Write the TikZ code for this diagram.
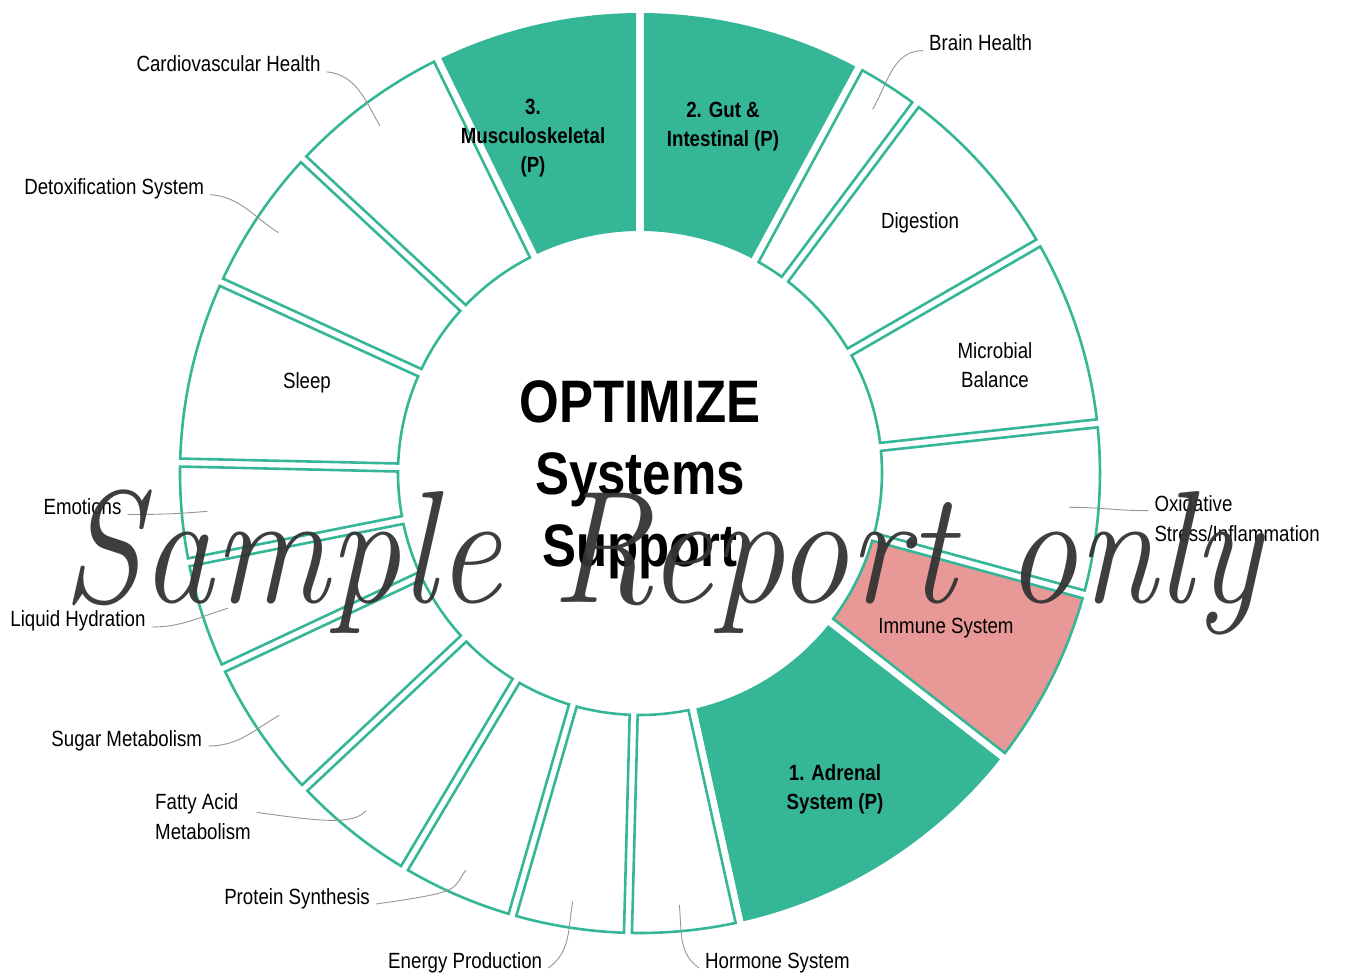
\documentclass[tikz,border=0pt]{standalone}
\usepackage{fontspec}
\setmainfont{Liberation Sans}[FakeStretch=0.85]
\newfontfamily\handfont{Latin Modern Roman}[FakeStretch=0.9]
\usepackage{graphicx}
\usepackage{tikz}
\usetikzlibrary{positioning}
\definecolor{segteal}{RGB}{53,183,151}
\definecolor{segred}{RGB}{232,152,150}
\definecolor{leadgray}{RGB}{150,150,150}
\definecolor{stampgray}{RGB}{52,52,52}
\tikzset{seg/.style = {draw = segteal, line width = 2.6pt, fill = white}}
\tikzset{segp/.style = {draw = none, fill = segteal}}
\tikzset{segi/.style = {draw = segteal, line width = 2.6pt, fill = segred}}
\tikzset{lbl/.style = {font = \fontsize{22}{29.5}\selectfont, inner xsep = 6pt, inner ysep = 0pt, align = left}}
\tikzset{lblin/.style = {font = \fontsize{22}{29.5}\selectfont, align = center}}
\tikzset{lblp/.style = {font = \fontsize{22}{29}\selectfont\bfseries, align = center}}
\tikzset{lead/.style = {draw = leadgray, line width = 0.9pt}}
\tikzset{stamp/.style = {font = \handfont\itshape\fontsize{160}{160}\selectfont, text = stampgray, opacity = 0.95}}

\begin{document}
\begin{tikzpicture}[x=1pt, y=1pt]
  \useasboundingbox (-640,-501) rectangle (705,473);
  \pgfmathsetmacro{\ro}{460}
  \pgfmathsetmacro{\ri}{242}
  \pgfmathsetmacro{\dro}{asin(4/\ro)}
  \pgfmathsetmacro{\dri}{asin(4/\ri)}
  \foreach \a/\b/\s in {61.6/90/segp, 53.2/61.6/seg, 30/53.2/seg, 6.2/30/seg,
      -15.3/6.2/seg, -38/-15.3/segi, -77.5/-38/segp, -91.5/-77.5/seg,
      -106.1/-91.5/seg, -120.8/-106.1/seg, -136.8/-120.8/seg, -154.9/-136.8/seg,
      -168.8/-154.9/seg, 178.7/191.2/seg, 155.5/178.7/seg, 137/155.5/seg,
      116.1/137/seg, 90/116.1/segp} {
    \draw[\s] (\a+\dro:\ro) arc[start angle=\a+\dro, end angle=\b-\dro, radius=\ro]
      -- (\b-\dri:\ri) arc[start angle=\b-\dri, end angle=\a+\dri, radius=\ri] -- cycle;
  }

  \node[lblp] (musculo) at (-107, 335) {3.\\Musculoskeletal\\(P)};
  \node[lblp] (gut) at (83, 346.5) {2. Gut \&\\Intestinal (P)};
  \node[lblp] (adrenal) at (195, -316) {1. Adrenal\\System (P)};
  \node[lblin] (digestion) at (280, 250) {Digestion};
  \node[lblin] (microbial) at (355, 108) {Microbial\\Balance};
  \node[lblin] (immune) at (306, -155) {Immune System};
  \node[lblin] (sleep) at (-333, 90) {Sleep};

  \node[lbl, anchor=base east] (cardio) at (-313.3, 401.1) {Cardiovascular Health};
  \node[lbl, anchor=base east] (detox) at (-429.7, 278.4) {Detoxification System};
  \node[lbl, anchor=base west] (brain) at (283, 422.4) {Brain Health};
  \node[lbl, anchor=base west] (oxidative) at (508.3, -68.3) {Oxidative\\Stress/Inflammation};
  \node[lbl, anchor=base east] (emotions) at (-512.3, -41.5) {Emotions};
  \node[lbl, anchor=base east] (hydration) at (-488.3, -154) {Liquid Hydration};
  \node[lbl, anchor=base east] (sugar) at (-431.7, -273) {Sugar Metabolism};
  \node[lbl, anchor=base west] (fatty) at (-491, -366) {Fatty Acid\\Metabolism};
  \node[lbl, anchor=base east] (protein) at (-264, -431) {Protein Synthesis};
  \node[lbl, anchor=base east] (energy) at (-91.7, -495) {Energy Production};
  \node[lbl, anchor=base west] (hormone) at (59, -495) {Hormone System};

  \coordinate (cardio-end) at (-260, 347);
  \coordinate (detox-end) at (-361.7, 240.3);
  \coordinate (brain-end) at (232.7, 363.7);
  \coordinate (oxidative-end) at (429.3, -34.3);
  \coordinate (emotions-end) at (-432.7, -38.3);
  \coordinate (hydration-end) at (-412.3, -135.3);
  \coordinate (sugar-end) at (-360.7, -242.3);
  \coordinate (fatty-end) at (-274, -337.7);
  \coordinate (protein-end) at (-174, -397);
  \coordinate (energy-end) at (-67.3, -428.7);
  \coordinate (hormone-end) at (39.3, -432);

  \draw[lead] (cardio.base east) to[out=-5, in=120] (cardio-end);
  \draw[lead] (detox.base east) to[out=-5, in=147] (detox-end);
  \draw[lead] (brain.base west) to[out=180, in=60] (brain-end);
  \draw[lead] ([yshift=8pt]oxidative.west) to[out=180, in=0] (oxidative-end);
  \draw[lead] (emotions.base east) to[out=0, in=185] (emotions-end);
  \draw[lead] (hydration.base east) to[out=0, in=197] (hydration-end);
  \draw[lead] (sugar.base east) to[out=0, in=210] (sugar-end);
  \draw[lead] ([yshift=4pt]fatty.east) .. controls +(-8:60) and +(229:20) .. (fatty-end);
  \draw[lead] (protein.base east) .. controls +(8:90) and +(233:25) .. (protein-end);
  \draw[lead] (energy.base east) to[out=35, in=260] (energy-end);
  \draw[lead] (hormone.base west) to[out=145, in=-84] (hormone-end);

  \node[font=\fontsize{60}{72}\selectfont\bfseries, align=center] (title) at (0, -7) {OPTIMIZE\\Systems\\Support};

  \node[stamp, anchor=base] (watermark) at (21.5, -130) {Sample Report only};
\end{tikzpicture}
\end{document}
